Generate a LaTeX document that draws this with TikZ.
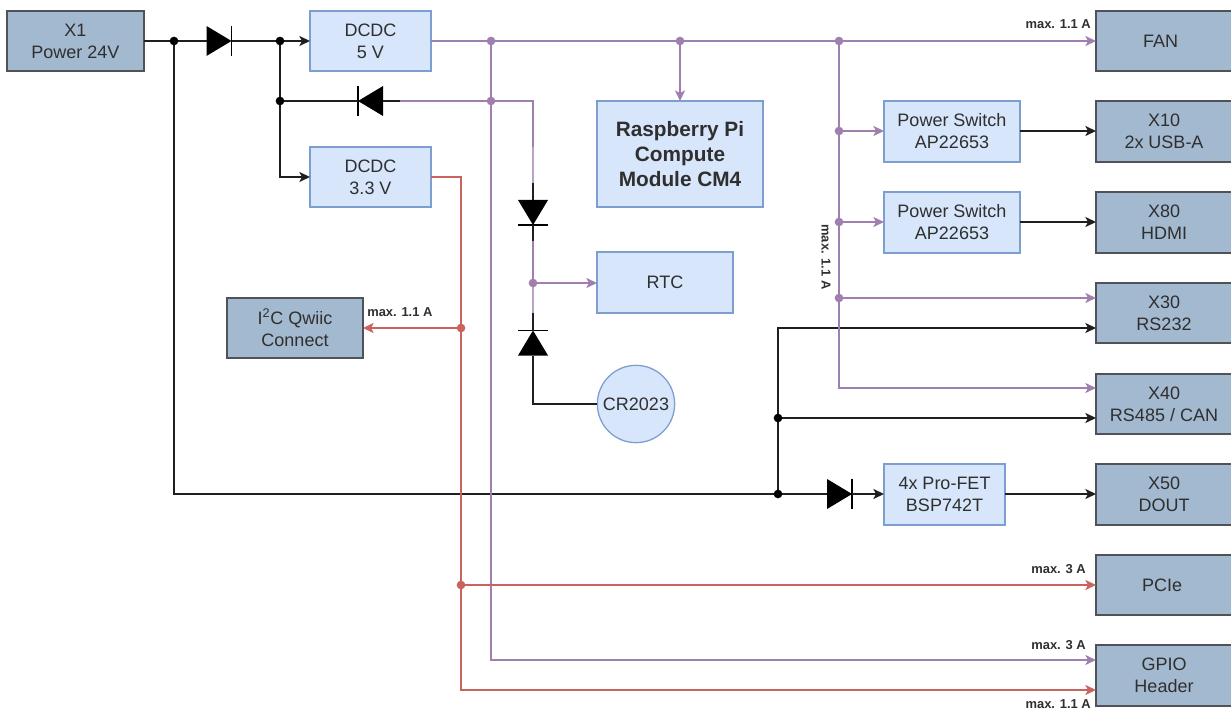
\documentclass[tikz,border=0pt]{standalone}
\usepackage{fontspec}
\setmainfont{Liberation Sans}
\usetikzlibrary{arrows.meta}
\definecolor{inkc}{HTML}{2F2F2F}
\definecolor{darkfill}{HTML}{A3B9D0}
\definecolor{darkline}{HTML}{4F5358}
\definecolor{lightfill}{HTML}{D7E6FA}
\definecolor{lightline}{HTML}{7C9FD0}
\definecolor{pur}{HTML}{A07FAF}
\definecolor{lilac}{HTML}{BBA3C8}
\definecolor{redw}{HTML}{C8635E}
\definecolor{blk}{HTML}{1F1F1F}
\tikzset{
  basebox/.style={rectangle,align=center,inner sep=0pt,outer sep=0pt,text=inkc,line width=0.95pt,
    font=\fontsize{13.5}{16.5}\selectfont},
  darkbox/.style={basebox,draw=darkline,fill=darkfill},
  lightbox/.style={basebox,draw=lightline,fill=lightfill},
  sized/.style n args={2}{minimum width=#1*0.75pt,minimum height=#2*0.75pt},
  tiplbl/.style={inner sep=0pt,text=inkc,font=\bfseries\fontsize{9.7}{11}\selectfont},
  wire/.style={line width=1.2pt,line join=miter},
  tip/.style={-{Stealth[length=8pt,width=7.5pt,inset=2pt]}},
  bw/.style={wire,draw=blk},
  pw/.style={wire,draw=pur},
  rw/.style={wire,draw=redw},
  bjunc/.style={circle,fill=black,inner sep=0pt,outer sep=0pt,minimum size=6.5pt},
  pjunc/.style={circle,fill=pur,inner sep=0pt,outer sep=0pt,minimum size=6.5pt},
  rjunc/.style={circle,fill=redw,inner sep=0pt,outer sep=0pt,minimum size=6.5pt},
  diode/.pic={
    \fill[black] (-12.5,-15) -- (-12.5,15) -- (12.5,0) -- cycle;
    \draw[black,line width=1pt] (12.5,-15) -- (12.5,15);
    \coordinate (-in) at (-12.5,0);
    \coordinate (-out) at (12.5,0);
  }
}
\begin{document}
\begin{tikzpicture}[x=0.75pt,y=-0.75pt]
\useasboundingbox (0,0) rectangle (1231,709);
% junctions (named, drawn last on top)
\coordinate (j174) at (174,41);
\coordinate (j280a) at (280,41);
\coordinate (j280b) at (280,101);
\coordinate (c280) at (280,177);
\coordinate (j491a) at (491,41);
\coordinate (j491b) at (491,101);
\coordinate (j680) at (680,41);
\coordinate (j839a) at (839,41);
\coordinate (j839b) at (839,131);
\coordinate (j839c) at (839,222);
\coordinate (j839d) at (839,298);
\coordinate (c839) at (839,388);
\coordinate (c491) at (491,660);
\coordinate (c174) at (174,494);
\coordinate (j778a) at (778,494);
\coordinate (j778b) at (778,418);
\coordinate (c778) at (778,328);
\coordinate (r1) at (461,177);
\coordinate (j461a) at (461,328);
\coordinate (j461b) at (461,585);
\coordinate (c461) at (461,690);
\coordinate (c533a) at (533,101);
\coordinate (c533b) at (533,147);
\coordinate (c533c) at (533,183);
\coordinate (c533d) at (533,241);
\coordinate (j533) at (533,283);
\coordinate (c533e) at (533,313);
\coordinate (c533f) at (533,404);
\coordinate (c400) at (400,101);
% boxes
\node[darkbox,sized={137}{60}] (x1) at (75.5,41) {X1\\Power 24V};
\node[lightbox,sized={121}{60}] (dc5) at (370.5,41) {DCDC\\5 V};
\node[lightbox,sized={121}{60}] (dc3) at (370.5,177) {DCDC\\3.3 V};
\node[lightbox,sized={166}{106},font=\bfseries\fontsize{15.6}{19}\selectfont] (cm4) at (680,154) {Raspberry Pi\\Compute\\Module CM4};
\node[lightbox,sized={136}{61}] (rtc) at (665,282.5) {RTC};
\node[lightbox,circle,minimum size=58pt] (cr) at (636,404) {CR2023};
\node[darkbox,sized={136}{60}] (i2c) at (295,328) {I\textsuperscript{2}C Qwiic\\Connect};
\node[lightbox,sized={136}{61}] (ps1) at (952,131.5) {Power Switch\\AP22653};
\node[lightbox,sized={136}{61}] (ps2) at (952,222.5) {Power Switch\\AP22653};
\node[lightbox,sized={121}{61}] (fet) at (944.5,494.5) {4x Pro-FET\\BSP742T};
\node[darkbox,sized={140}{60}] (fan) at (1166,41) {\hspace{-4pt}FAN\hspace{4pt}};
\node[darkbox,sized={140}{61}] (x10) at (1166,131.5) {\hspace{-3pt}X10\hspace{3pt}\\\hspace{-3pt}2x USB-A\hspace{3pt}};
\node[darkbox,sized={140}{61}] (x80) at (1166,222.5) {\hspace{-3pt}X80\hspace{3pt}\\\hspace{-3pt}HDMI\hspace{3pt}};
\node[darkbox,sized={140}{60}] (x30) at (1166,313) {\hspace{-3pt}X30\hspace{3pt}\\\hspace{-3pt}RS232\hspace{3pt}};
\node[darkbox,sized={140}{60}] (x40) at (1166,404) {\hspace{-3pt}X40\hspace{3pt}\\\hspace{-3pt}RS485 / CAN\hspace{3pt}};
\node[darkbox,sized={140}{61}] (x50) at (1166,494.5) {\hspace{-3pt}X50\hspace{3pt}\\\hspace{-3pt}DOUT\hspace{3pt}};
\node[darkbox,sized={140}{60}] (pcie) at (1166,585) {\hspace{-3pt}PCIe\hspace{3pt}};
\node[darkbox,sized={140}{61}] (gpio) at (1166,675.5) {\hspace{-3pt}GPIO\hspace{3pt}\\\hspace{-3pt}Header\hspace{3pt}};
% diodes
\pic (da) at (219,41) {diode};
\pic[rotate=180] (db) at (370.5,101) {diode};
\pic[rotate=-90] (dc) at (533,212.5) {diode};
\pic[rotate=90] (dd) at (533,343) {diode};
\pic (de) at (839.5,494) {diode};
% black wires
\draw[bw] (x1) -- (j174) -- (da-in);
\draw[bw] (da-out) -- (j280a);
\draw[bw,tip] (j280a) -- (dc5);
\draw[bw] (j280a) -- (j280b);
\draw[bw,tip] (j280b) -- (c280) -- (dc3);
\draw[bw] (j280b) -- (db-out);
\draw[bw] (db-in) -- (c400);
\draw[bw] (j174) -- (c174) -- (j778a) -- (de-in);
\draw[bw,tip] (de-out) -- (de-out -| fet.west);
\draw[bw,tip] (de-out -| fet.east) -- (de-out -| x50.west);
\draw[bw] (j778a) -- (j778b);
\draw[bw,tip] (j778b) -- (c778) -- (c778 -| x30.west);
\draw[bw,tip] (j778b) -- (j778b -| x40.west);
\draw[bw,tip] (j839b -| ps1.east) -- (j839b -| x10.west);
\draw[bw,tip] (j839c -| ps2.east) -- (j839c -| x80.west);
\draw[bw] (c533c) -- (dc-in);
\draw[bw] (dc-out) -- (c533d);
\draw[bw] (c533e) -- (dd-out);
\draw[bw] (dd-in) -- (c533f) -- (cr);
% purple wires
\draw[pw,tip] (dc5) -- (j491a) -- (j680) -- (j839a) -- (j839a -| fan.west);
\draw[pw,tip] (j680) -- (j680 |- cm4.north);
\draw[pw] (c400) -- (j491b) -- (c533a) -- (c533b);
\draw[wire,draw=lilac] (c533b) -- (c533c);
\draw[pw,tip] (j491a) -- (c491) -- (c491 -| gpio.west);
\draw[pw,tip] (j839a) -- (c839) -- (c839 -| x40.west);
\draw[pw,tip] (j839b) -- (ps1.west |- j839b);
\draw[pw,tip] (j839c) -- (ps2.west |- j839c);
\draw[pw,tip] (j839d) -- (j839d -| x30.west);
\draw[pw] (c533d) -- (j533);
\draw[wire,draw=lilac] (j533) -- (c533e);
\draw[pw,tip] (j533) -- (j533 -| rtc.west);
% red wires
\draw[rw,tip] (dc3) -- (r1) -- (c461) -- (c461 -| gpio.west);
\draw[rw,tip] (j461a) -- (j461a -| i2c.east);
\draw[rw,tip] (j461b) -- (j461b -| pcie.west);
% junction dots
\foreach \n in {j174,j280a,j280b,j778a,j778b} \node[bjunc] at (\n) {};
\foreach \n in {j491a,j491b,j680,j839a,j839b,j839c,j839d,j533} \node[pjunc] at (\n) {};
\foreach \n in {j461a,j461b} \node[rjunc] at (\n) {};
% current labels
\node[tiplbl,anchor=east] (l1) at (1091,24) {max. 1.1 A};
\node[tiplbl,anchor=west] (l2) at (367,312) {max. 1.1 A};
\node[tiplbl,rotate=-90] (l3) at (826,257) {max. 1.1 A};
\node[tiplbl,anchor=east] (l4) at (1086,569) {max. 3 A};
\node[tiplbl,anchor=east] (l5) at (1086,645) {max. 3 A};
\node[tiplbl,anchor=east] (l6) at (1091,704) {max. 1.1 A};
\end{tikzpicture}
\end{document}
